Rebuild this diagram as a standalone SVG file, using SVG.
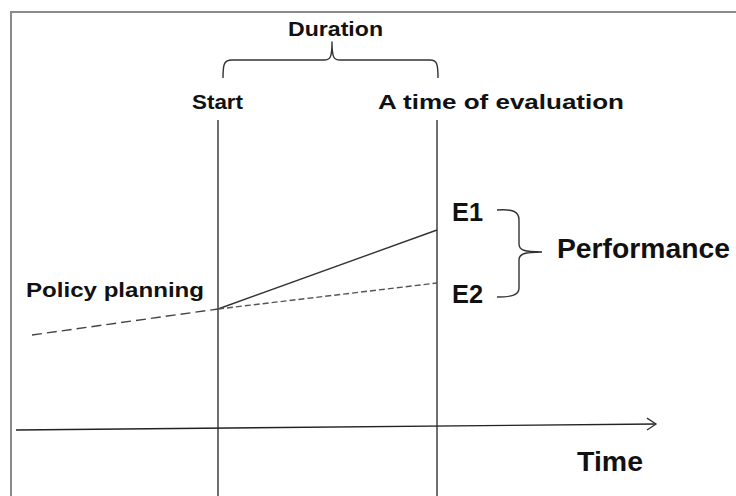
<svg xmlns="http://www.w3.org/2000/svg" width="736" height="496" viewBox="0 0 736 496">
<style>
  .lbl { font-family: "Liberation Sans", Arial, sans-serif; font-weight: bold; fill: #111; }
  .ln { fill: none; stroke: #222; stroke-width: 1.3; }
  .brace { fill: none; stroke: #333; stroke-width: 1.4; stroke-linejoin: round; }
</style>
<defs>
  <marker id="arrow" markerWidth="14" markerHeight="14" refX="11" refY="7" orient="auto" markerUnits="userSpaceOnUse">
    <path d="M2,1 L11,7 L2,13" fill="none" stroke="#333" stroke-width="1.3"/>
  </marker>
</defs>
<rect width="736" height="496" fill="#ffffff"/>
<g id="frame">
  <path d="M11,496 L11,12 L736,12" fill="none" stroke="#8a8a8a" stroke-width="2"/>
</g>
<g id="connectors">
  <line class="ln" x1="218" y1="120" x2="218" y2="496"/>
  <line class="ln" x1="437" y1="120" x2="437" y2="496"/>
  <line class="ln" x1="16" y1="430" x2="656" y2="424" marker-end="url(#arrow)" stroke="#333"/>
  <line x1="32" y1="335" x2="218" y2="309" stroke="#444" stroke-width="1.4" stroke-dasharray="10,5" fill="none"/>
  <line x1="218" y1="309" x2="437" y2="230" stroke="#333" stroke-width="1.4" fill="none"/>
  <line x1="218" y1="309" x2="437" y2="283" stroke="#555" stroke-width="1.4" stroke-dasharray="6,3" fill="none"/>
</g>
<g id="duration">
  <path class="brace" d="M223,78 C223,64 224,60 232,60 L324,60 C330,60 332,58 332,42 C332,58 334,60 340,60 L430,60 C437,60 438,64 438,78"/>
  <text class="lbl" x="288" y="36" font-size="20" textLength="95" lengthAdjust="spacingAndGlyphs">Duration</text>
</g>
<g id="start">
  <text class="lbl" x="192" y="109" font-size="20" textLength="51" lengthAdjust="spacingAndGlyphs">Start</text>
</g>
<g id="evaluation">
  <text class="lbl" x="378" y="109" font-size="20" textLength="246" lengthAdjust="spacingAndGlyphs">A time of evaluation</text>
</g>
<g id="policy">
  <text class="lbl" x="26" y="297" font-size="21" textLength="178" lengthAdjust="spacingAndGlyphs">Policy planning</text>
</g>
<g id="e1">
  <text class="lbl" x="452" y="221" font-size="25" textLength="31" lengthAdjust="spacingAndGlyphs">E1</text>
</g>
<g id="e2">
  <text class="lbl" x="452" y="303" font-size="25" textLength="31" lengthAdjust="spacingAndGlyphs">E2</text>
</g>
<g id="performance">
  <path class="brace" d="M497,210 C512,209 519,211 519,220 L519,244 C519,250 524,252 542,252 M542,252 C524,252 519,254 519,260 L519,288 C519,295 512,297 497,297"/>
  <text class="lbl" x="557" y="258" font-size="27" textLength="173" lengthAdjust="spacingAndGlyphs">Performance</text>
</g>
<g id="time">
  <text class="lbl" x="577" y="471" font-size="28" textLength="66" lengthAdjust="spacingAndGlyphs">Time</text>
</g>
</svg>
